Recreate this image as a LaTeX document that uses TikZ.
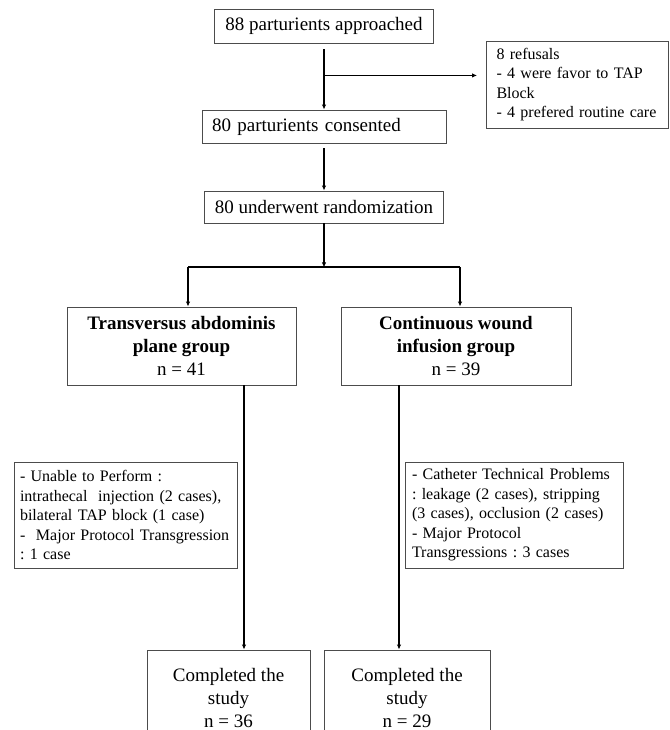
\documentclass[tikz,border=0pt]{standalone}
\usepackage{fontspec}
\setmainfont{Liberation Serif}
\usetikzlibrary{arrows.meta}
\frenchspacing
\tikzset{
  boxbig/.style={draw=black!70, line width=0.9pt, font=\fontsize{19}{23}\selectfont, align=center, inner sep=0pt},
  boxsmall/.style={draw=black!70, line width=0.9pt, font=\fontsize{16}{19.5}\selectfont, align=left, inner ysep=0pt},
  arr/.style={line width=1.1pt, -{Latex[length=5pt,width=4.5pt]}},
  ln/.style={line width=1.1pt}
}
\begin{document}
\begin{tikzpicture}[x=1pt,y=-1pt]
\useasboundingbox (0,0) rectangle (669,730);
\clip (0,0) rectangle (669,730);

\node[boxbig, minimum width=219pt, minimum height=34pt] (app) at (324,26) {88 parturients approached};
\node[boxsmall, text width=162pt, inner xsep=10pt, minimum height=87pt] (ref) at (577.5,84.5)
  {8 refusals\\- 4 were favor to TAP\\Block\\- 4 prefered routine care};
\node[boxbig, align=left, text width=224pt, inner xsep=10pt, minimum height=33pt] (cons) at (324,126.5) {80 parturients consented};
\node[boxbig, minimum width=239pt, minimum height=32pt] (rand) at (324,207) {80 underwent randomization};
\node[boxbig, minimum width=229pt, minimum height=78pt] (tap) at (181.5,346)
  {\textbf{Transversus abdominis}\\\textbf{plane group}\\n = 41};
\node[boxbig, minimum width=230pt, minimum height=78pt] (cwi) at (456,346)
  {\textbf{Continuous wound}\\\textbf{infusion group}\\n = 39};
\node[boxsmall, text width=211pt, inner xsep=6pt, minimum height=106pt] (exl) at (125.5,515)
  {- Unable to Perform :\\intrathecal~ injection (2 cases),\\bilateral TAP block (1 case)\\-~ Major Protocol Transgression\\: 1 case};
\node[boxsmall, text width=204pt, inner xsep=7pt, minimum height=106pt] (exr) at (514,515)
  {- Catheter Technical Problems\\: leakage (2 cases), stripping\\(3 cases), occlusion (2 cases)\\- Major Protocol\\Transgressions : 3 cases};
\node[boxbig, minimum width=163pt, minimum height=95pt] (cl) at (228.5,697.5) {Completed the\\study\\n = 36};
\node[boxbig, minimum width=166pt, minimum height=95pt] (cr) at (407,697.5) {Completed the\\study\\n = 29};

% connectors
\draw[arr, shorten <=6pt] (app.south) -- (app.south |- cons.north);
\path (app.south) ++(0,32) coordinate (b1);
\draw[arr, shorten >=9pt] (b1) -- (b1 -| ref.west);
\draw[arr, shorten <=5pt] (cons.south) -- (cons.south |- rand.north);
\path (rand.south) ++(0,44) coordinate (sp);
\draw[arr] (rand.south) -- (sp);
\coordinate (spl) at (188,267);
\coordinate (spr) at (460,267);
\draw[ln] (spl) -- (spr);
\draw[arr] (spl) -- (spl |- tap.north);
\draw[arr] (spr) -- (spr |- cwi.north);
\path (tap.south) ++(62.5,0) coordinate (tl);
\draw[arr] (tl) -- (tl |- cl.north);
\path (cwi.south) ++(-57,0) coordinate (tr);
\draw[arr] (tr) -- (tr |- cr.north);
\end{tikzpicture}
\end{document}
